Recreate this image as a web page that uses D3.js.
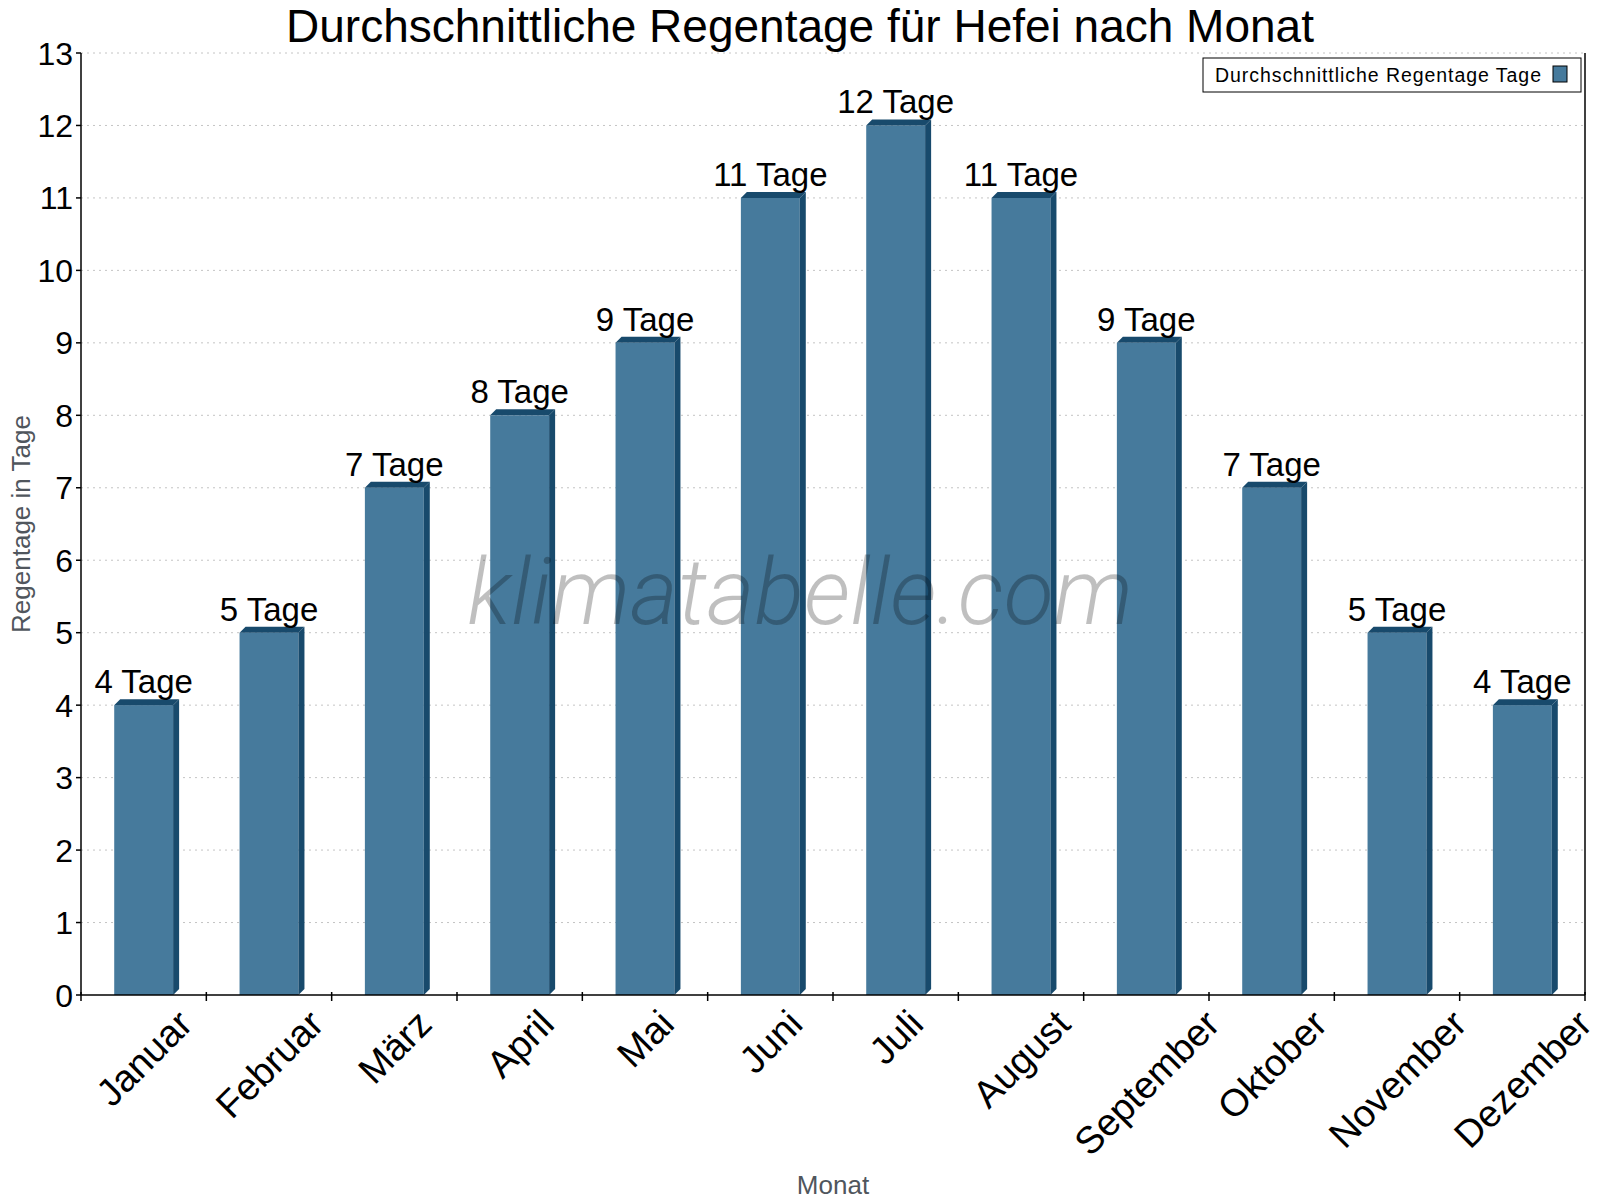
<!DOCTYPE html>
<html lang="de">
<head>
    <meta charset="UTF-8">
    <title>Durchschnittliche Regentage für Hefei nach Monat</title>
    <script src="https://d3js.org/d3.v7.min.js"></script>
    <style>
        body { margin: 0; background: #fff; }
        svg { display: block; font-family: "Liberation Sans", Arial, sans-serif; }
        .grid line { stroke: #c4c4c4; stroke-width: 1px; stroke-dasharray: 2,4; }
        .axis-line { stroke: #000; stroke-width: 1.5px; }
        .bar-label { font-size: 33px; fill: #000; text-anchor: middle; }
        .tick-label { font-size: 32px; fill: #000; }
        .month-label { font-size: 38px; fill: #000; text-anchor: middle; }
        .axis-title { font-size: 26px; fill: #50565d; text-anchor: middle; }
    </style>
</head>
<body>
    <div id="chart"></div>
    <script>
        const months = ["Januar", "Februar", "März", "April", "Mai", "Juni",
                        "Juli", "August", "September", "Oktober", "November", "Dezember"];
        const rainDays = [4, 5, 7, 8, 9, 11, 12, 11, 9, 7, 5, 4];
        const yTicks = d3.range(0, 14);

        const W = 1600, H = 1200;
        const plotLeft = 81, plotRight = 1585, plotTop = 53, plotBottom = 995;
        const depth = 6;
        const front = "#467a9c", dark = "#184a6c";

        const svg = d3.select("#chart").append("svg")
            .attr("width", W).attr("height", H);
        svg.append("rect").attr("width", W).attr("height", H).attr("fill", "#fff");

        const x = d3.scaleBand().domain(months).range([plotLeft, plotRight]).padding(0);
        const y = d3.scaleLinear().domain([0, 13]).range([plotBottom, plotTop]);
        const barW = x.bandwidth() * 0.47;

        // horizontal dotted grid
        svg.append("g").attr("class", "grid")
            .selectAll("line").data(yTicks.filter(d => d > 0)).join("line")
            .attr("x1", plotLeft).attr("x2", plotRight)
            .attr("y1", d => y(d)).attr("y2", d => y(d));

        // title
        svg.append("text")
            .attr("x", W / 2).attr("y", 42)
            .attr("text-anchor", "middle")
            .style("font-size", "46px")
            .text("Durchschnittliche Regentage für Hefei nach Monat");

        // bars with a small 3d side and top
        const bars = svg.append("g").selectAll("g").data(months).join("g");
        bars.each(function(m, i) {
            const g = d3.select(this);
            const x0 = x(m) + (x.bandwidth() - barW) / 2, x1 = x0 + barW;
            const yt = y(rainDays[i]), y0 = y(0);
            g.append("rect")
                .attr("x", x0).attr("y", yt)
                .attr("width", barW).attr("height", y0 - yt)
                .attr("fill", front);
            g.append("polygon")
                .attr("points", [[x1, yt], [x1 + depth, yt - depth], [x1 + depth, y0 - depth], [x1, y0]].join(" "))
                .attr("fill", dark);
            g.append("polygon")
                .attr("points", [[x0, yt], [x0 + depth, yt - depth], [x1 + depth, yt - depth], [x1, yt]].join(" "))
                .attr("fill", dark);
            g.append("text")
                .attr("class", "bar-label")
                .attr("x", x(m) + x.bandwidth() / 2)
                .attr("y", yt - 12)
                .text(rainDays[i] + " Tage");
        });

        // axes
        svg.append("line").attr("class", "axis-line")
            .attr("x1", plotLeft).attr("x2", plotLeft).attr("y1", plotTop).attr("y2", plotBottom);
        svg.append("line").attr("class", "axis-line")
            .attr("x1", plotRight).attr("x2", plotRight).attr("y1", plotTop).attr("y2", plotBottom);
        svg.append("line").attr("class", "axis-line")
            .attr("x1", plotLeft).attr("x2", plotRight).attr("y1", plotBottom).attr("y2", plotBottom);

        const yAxis = svg.append("g");
        yAxis.selectAll("line").data(yTicks).join("line")
            .attr("class", "axis-line")
            .attr("x1", plotLeft - 5).attr("x2", plotLeft)
            .attr("y1", d => y(d)).attr("y2", d => y(d));
        yAxis.selectAll("text").data(yTicks).join("text")
            .attr("class", "tick-label")
            .attr("x", plotLeft - 8).attr("y", d => y(d))
            .attr("dy", "0.36em")
            .attr("text-anchor", "end")
            .text(d => d);

        const bounds = months.map(m => x(m)).concat([plotRight]);
        svg.append("g").selectAll("line").data(bounds).join("line")
            .attr("class", "axis-line")
            .attr("x1", d => d).attr("x2", d => d)
            .attr("y1", plotBottom - 3).attr("y2", plotBottom + 6);

        // rotated month labels: top of the rotated box sits just under the axis
        const labelTop = plotBottom + 12;
        svg.append("g").selectAll("text").data(months).join("text")
            .attr("class", "month-label")
            .attr("dy", "0.36em")
            .text(m => m)
            .each(function(m) {
                const w = this.getComputedTextLength();
                const h = 38 * 0.72;
                const cy = labelTop + (w + h) * Math.SQRT1_2 / 2;
                d3.select(this).attr("transform",
                    `translate(${x(m) + x.bandwidth() / 2},${cy}) rotate(-45)`);
            });

        // axis titles
        svg.append("text").attr("class", "axis-title")
            .attr("transform", `translate(30,${(plotTop + plotBottom) / 2}) rotate(-90)`)
            .text("Regentage in Tage");
        svg.append("text").attr("class", "axis-title")
            .attr("x", (plotLeft + plotRight) / 2).attr("y", 1194)
            .text("Monat");

        // legend
        const legend = svg.append("g");
        legend.append("rect")
            .attr("x", 1203).attr("y", 58).attr("width", 378).attr("height", 34)
            .attr("fill", "#fff").attr("stroke", "#000").attr("stroke-width", 1);
        legend.append("text")
            .attr("x", 1215).attr("y", 82)
            .attr("textLength", 326).attr("lengthAdjust", "spacing")
            .style("font-size", "19.5px")
            .text("Durchschnittliche Regentage Tage");
        legend.append("rect")
            .attr("x", 1553).attr("y", 66).attr("width", 14).attr("height", 16)
            .attr("fill", front).attr("stroke", "#000").attr("stroke-width", 1);

        // watermark
        svg.append("text")
            .attr("x", 800).attr("y", 624)
            .attr("text-anchor", "middle")
            .style("font-family", "Roboto, sans-serif")
            .style("font-weight", 300)
            .style("font-style", "italic")
            .style("font-size", "92px")
            .attr("fill", "#000").attr("fill-opacity", 0.25)
            .text("klimatabelle.com");
    </script>
</body>
</html>
